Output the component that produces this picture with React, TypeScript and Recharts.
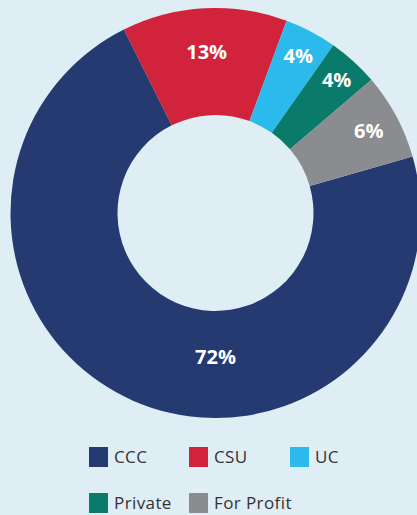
import React from "react";
import { PieChart, Pie, Cell, Legend } from "recharts";

const categories = ["CCC", "CSU", "UC", "Private", "For Profit"];
const shares = [72, 13, 4.1, 4, 6.8];
const shareLabels = ["72%", "13%", "4%", "4%", "6%"];
const colors = ["#253a70", "#d2233c", "#2bbaeb", "#0a7a6a", "#8b8c90"];

const data = categories.map((name, i) => ({ name, value: shares[i], label: shareLabels[i] }));

// per-slice label distance from centre (the source places them by hand)
const labelRadius = [143, 162, 178, 180, 174];
const RAD = Math.PI / 180;

const renderLabel = (props: any) => {
  const { cx, cy, midAngle, index } = props;
  // the big slice has its label straight below the hole
  const angle = index === 0 ? -90 : midAngle;
  const r = labelRadius[index];
  const x = cx + r * Math.cos(-angle * RAD);
  const y = cy + r * Math.sin(-angle * RAD);
  return (
    <text
      x={x}
      y={y}
      fill="#ffffff"
      textAnchor="middle"
      dominantBaseline="central"
      fontFamily="'Open Sans', sans-serif"
      fontWeight={700}
      fontSize={20}
    >
      {data[index].label}
    </text>
  );
};

const legendCols = [89, 189, 290];
const legendRows = [447, 493];

const renderLegend = () => (
  <div style={{ position: "relative", width: 417, height: 75 }}>
    {categories.map((name, i) => {
      const col = i % 3;
      const row = Math.floor(i / 3);
      return (
        <div
          key={name}
          style={{
            position: "absolute",
            left: legendCols[col],
            top: legendRows[row] - 440,
            display: "flex",
            alignItems: "center",
            height: 20,
          }}
        >
          <span style={{ width: 19, height: 20, background: colors[i], display: "inline-block" }} />
          <span
            style={{
              marginLeft: 6,
              fontFamily: "'Open Sans', sans-serif",
              fontSize: 17,
              letterSpacing: 0.4,
              color: "#333333",
              lineHeight: "20px",
            }}
          >
            {name}
          </span>
        </div>
      );
    })}
  </div>
);

export default function App() {
  return (
    <div style={{ position: "fixed", left: 0, top: 0, width: 417, height: 515, background: "#dfedf5" }}>
      <PieChart width={417} height={515} margin={{ top: 0, right: 0, bottom: 0, left: 0 }}>
        <Pie
          data={data}
          dataKey="value"
          nameKey="name"
          cx={215.5}
          cy={213}
          innerRadius={98}
          outerRadius={205}
          startAngle={16}
          endAngle={-344}
          stroke="none"
          label={renderLabel}
          labelLine={false}
          isAnimationActive={false}
        >
          {data.map((d, i) => (
            <Cell key={d.name} fill={colors[i]} />
          ))}
        </Pie>
        <Legend content={renderLegend} wrapperStyle={{ position: "absolute", left: 0, top: 440, width: 417 }} />
      </PieChart>
    </div>
  );
}
